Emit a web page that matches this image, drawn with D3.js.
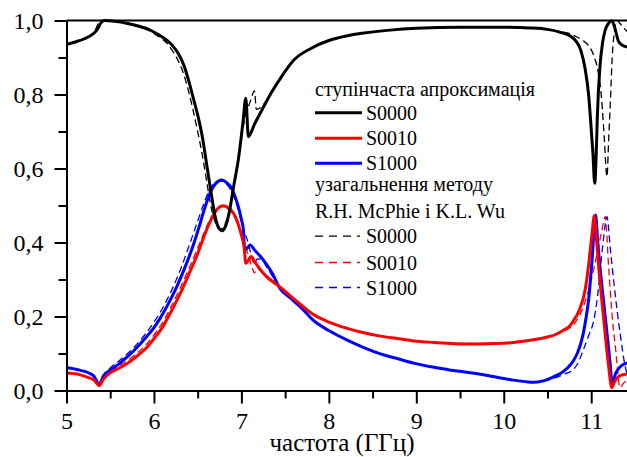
<!DOCTYPE html>
<html>
<head>
<meta charset="utf-8">
<script src="https://cdn.jsdelivr.net/npm/d3@7"></script>
<style>
  body { margin: 0; background: #fff; }
  svg { display: block; }
</style>
</head>
<body>
<svg id="chart" width="627" height="457"></svg>
<script>
// Frequency axis (GHz) and magnitude axis
const xMajorTicks = [5, 6, 7, 8, 9, 10, 11];
const xMinorTicks = [5.5, 6.5, 7.5, 8.5, 9.5, 10.5];
const yMajorTicks = [0, 0.2, 0.4, 0.6, 0.8, 1.0];
const yMinorTicks = [0.1, 0.3, 0.5, 0.7, 0.9];
const xTitle = "частота (ГГц)";

// Stepped approximation, [frequency, value]
const stepS0000 = [
  [5.00,0.935],[5.10,0.942],[5.20,0.950],[5.30,0.963],[5.35,0.975],[5.39,0.992],[5.43,1.000],
  [5.55,0.998],[5.70,0.992],[5.85,0.983],[5.95,0.975],[6.05,0.962],[6.15,0.946],[6.22,0.930],
  [6.28,0.910],[6.34,0.880],[6.40,0.835],[6.45,0.790],[6.50,0.745],[6.55,0.690],[6.61,0.600],
  [6.66,0.525],[6.70,0.470],[6.74,0.440],[6.78,0.432],[6.82,0.445],[6.86,0.480],[6.91,0.550],
  [6.97,0.632],[7.02,0.730],[7.05,0.790],[7.08,0.686],[7.15,0.720],[7.25,0.765],[7.35,0.808],
  [7.45,0.845],[7.60,0.893],[7.80,0.925],[8.00,0.946],[8.20,0.958],[8.40,0.966],[8.70,0.974],
  [9.00,0.979],[9.50,0.982],[10.00,0.982],[10.30,0.980],[10.50,0.976],[10.65,0.968],[10.76,0.958],
  [10.83,0.943],[10.88,0.920],[10.93,0.870],[10.97,0.800],[10.99,0.740],[11.02,0.640],[11.04,0.560],
  [11.06,0.660],[11.07,0.740],[11.10,0.875],[11.13,0.940],[11.16,0.974],[11.20,0.993],[11.23,0.999],
  [11.26,0.988],[11.29,0.962],[11.31,0.945],[11.35,0.934],[11.42,0.928]
];
const stepS0010 = [
  [5.00,0.047],[5.15,0.043],[5.25,0.035],[5.32,0.027],[5.375,0.013],[5.42,0.030],[5.50,0.048],
  [5.60,0.060],[5.70,0.074],[5.80,0.092],[5.90,0.112],[6.00,0.140],[6.10,0.172],[6.20,0.215],
  [6.30,0.262],[6.40,0.315],[6.50,0.370],[6.57,0.415],[6.63,0.450],[6.68,0.474],[6.73,0.492],
  [6.79,0.499],[6.85,0.494],[6.91,0.479],[6.96,0.452],[7.00,0.420],[7.03,0.390],[7.05,0.344],
  [7.08,0.352],[7.11,0.362],[7.16,0.345],[7.25,0.317],[7.35,0.296],[7.44,0.280],[7.56,0.256],
  [7.70,0.228],[7.82,0.206],[8.00,0.185],[8.21,0.168],[8.40,0.156],[8.59,0.147],[8.80,0.140],
  [8.97,0.134],[9.20,0.130],[9.35,0.128],[9.55,0.126],[9.73,0.126],[9.90,0.127],[10.11,0.130],
  [10.30,0.136],[10.49,0.144],[10.60,0.152],[10.68,0.163],[10.76,0.176],[10.80,0.190],[10.85,0.210],
  [10.88,0.228],[10.91,0.250],[10.95,0.300],[10.98,0.360],[11.01,0.425],[11.035,0.472],[11.06,0.410],
  [11.085,0.335],[11.14,0.200],[11.20,0.064],[11.235,0.008],[11.27,0.025],[11.33,0.040],[11.42,0.045]
];
const stepS1000 = [
  [5.00,0.062],[5.15,0.055],[5.25,0.048],[5.31,0.040],[5.375,0.017],[5.42,0.038],[5.50,0.055],
  [5.60,0.072],[5.70,0.092],[5.80,0.115],[5.88,0.136],[6.00,0.170],[6.07,0.195],[6.15,0.228],
  [6.26,0.280],[6.35,0.330],[6.45,0.393],[6.52,0.445],[6.57,0.485],[6.64,0.533],[6.70,0.558],
  [6.775,0.569],[6.83,0.562],[6.89,0.546],[6.93,0.522],[6.965,0.497],[7.00,0.462],[7.02,0.440],
  [7.04,0.380],[7.07,0.386],[7.10,0.393],[7.15,0.380],[7.25,0.353],[7.35,0.318],[7.44,0.276],
  [7.56,0.250],[7.70,0.220],[7.82,0.190],[8.00,0.162],[8.21,0.136],[8.40,0.116],[8.59,0.099],
  [8.80,0.085],[8.97,0.074],[9.15,0.065],[9.35,0.057],[9.55,0.050],[9.73,0.044],[9.92,0.036],
  [10.11,0.028],[10.25,0.024],[10.34,0.022],[10.45,0.026],[10.57,0.037],[10.68,0.051],[10.76,0.069],
  [10.80,0.082],[10.84,0.100],[10.875,0.123],[10.91,0.155],[10.94,0.195],[10.97,0.245],[11.01,0.353],
  [11.05,0.474],[11.075,0.400],[11.10,0.335],[11.16,0.200],[11.22,0.064],[11.24,0.010],[11.27,0.040],
  [11.30,0.055],[11.35,0.068],[11.42,0.075]
];

// Generalised R.H. McPhie & K.L. Wu method, [frequency, value]
const mcphieS0000 = [
  [5.00,0.935],[5.10,0.942],[5.20,0.950],[5.28,0.960],[5.33,0.975],[5.37,0.995],[5.40,1.000],
  [5.55,0.998],[5.70,0.991],[5.85,0.981],[5.95,0.972],[6.05,0.957],[6.15,0.938],[6.22,0.915],
  [6.28,0.890],[6.34,0.855],[6.40,0.805],[6.45,0.755],[6.50,0.700],[6.55,0.640],[6.60,0.570],
  [6.65,0.500],[6.70,0.455],[6.75,0.435],[6.79,0.440],[6.83,0.460],[6.88,0.510],[6.93,0.580],
  [6.99,0.670],[7.05,0.745],[7.10,0.780],[7.15,0.810],[7.17,0.760],[7.22,0.765],[7.30,0.788],
  [7.45,0.845],[7.60,0.893],[7.80,0.925],[8.00,0.946],[8.20,0.958],[8.40,0.966],[8.70,0.974],
  [9.00,0.979],[9.50,0.982],[10.00,0.982],[10.30,0.980],[10.50,0.976],[10.65,0.970],[10.76,0.964],
  [10.83,0.956],[10.91,0.945],[10.97,0.932],[11.03,0.905],[11.08,0.860],[11.12,0.785],[11.15,0.680],
  [11.18,0.578],[11.20,0.680],[11.22,0.785],[11.24,0.900],[11.26,0.960],[11.28,0.990],[11.30,1.000],
  [11.33,0.992],[11.38,0.978],[11.42,0.968]
];
const mcphieS0010 = [
  [5.00,0.047],[5.15,0.043],[5.25,0.035],[5.32,0.026],[5.37,0.013],[5.42,0.033],[5.50,0.052],
  [5.60,0.066],[5.70,0.081],[5.80,0.100],[5.90,0.122],[6.00,0.150],[6.10,0.184],[6.20,0.228],
  [6.30,0.277],[6.40,0.330],[6.50,0.385],[6.57,0.425],[6.63,0.458],[6.68,0.478],[6.73,0.492],
  [6.78,0.497],[6.84,0.492],[6.90,0.478],[6.96,0.450],[7.02,0.410],[7.08,0.365],[7.12,0.335],
  [7.15,0.318],[7.18,0.330],[7.22,0.323],[7.30,0.302],[7.44,0.280],[7.56,0.256],[7.70,0.228],
  [7.82,0.206],[8.00,0.185],[8.21,0.168],[8.40,0.156],[8.59,0.147],[8.80,0.140],[8.97,0.134],
  [9.20,0.130],[9.35,0.128],[9.55,0.127],[9.73,0.127],[9.90,0.128],[10.11,0.130],[10.30,0.136],
  [10.49,0.144],[10.60,0.151],[10.68,0.160],[10.76,0.170],[10.82,0.185],[10.87,0.205],[10.91,0.226],
  [10.95,0.255],[11.00,0.300],[11.04,0.340],[11.08,0.385],[11.12,0.430],[11.16,0.470],[11.20,0.330],
  [11.24,0.200],[11.28,0.110],[11.33,0.008],[11.37,0.020],[11.42,0.030]
];
const mcphieS1000 = [
  [5.00,0.062],[5.15,0.055],[5.25,0.047],[5.32,0.036],[5.37,0.020],[5.42,0.042],[5.50,0.061],
  [5.60,0.080],[5.70,0.100],[5.80,0.124],[5.90,0.152],[6.00,0.185],[6.10,0.223],[6.20,0.270],
  [6.30,0.325],[6.40,0.390],[6.50,0.458],[6.57,0.505],[6.63,0.540],[6.70,0.562],[6.76,0.567],
  [6.82,0.560],[6.89,0.536],[6.96,0.492],[7.02,0.438],[7.07,0.405],[7.12,0.360],[7.15,0.342],
  [7.18,0.356],[7.22,0.355],[7.30,0.330],[7.44,0.276],[7.56,0.250],[7.70,0.220],[7.82,0.190],
  [8.00,0.162],[8.21,0.136],[8.40,0.116],[8.59,0.099],[8.80,0.085],[8.97,0.074],[9.15,0.065],
  [9.35,0.057],[9.55,0.050],[9.73,0.044],[9.92,0.036],[10.11,0.028],[10.25,0.024],[10.34,0.022],
  [10.45,0.025],[10.57,0.033],[10.68,0.043],[10.80,0.058],[10.86,0.080],[10.91,0.110],[10.97,0.148],
  [11.03,0.190],[11.07,0.250],[11.10,0.317],[11.14,0.410],[11.18,0.470],[11.22,0.380],[11.26,0.290],
  [11.33,0.155],[11.39,0.064],[11.42,0.040]
];

const legendHeading1 = "ступінчаста апроксимація";
const legendHeading2 = "узагальнення методу";
const legendHeading3 = "R.H. McPhie i K.L. Wu";
const seriesNames = ["S0000", "S0010", "S1000"];
const seriesColors = ["#000000", "#ff0000", "#0000ff"];

const FONT = "'Liberation Serif', 'Times New Roman', serif";
const svg = d3.select("#chart");
const x = d3.scaleLinear().domain([5, 11.415]).range([66.5, 627.5]);
const y = d3.scaleLinear().domain([0, 1]).range([390.5, 20.5]);
const fmtY = v => d3.format(".1f")(v).replace(".", ",");

svg.append("defs").append("clipPath").attr("id", "plotClip")
  .append("rect").attr("x", 66.5).attr("y", 0).attr("width", 562).attr("height", 392);

// Curves
const line = d3.line().x(d => x(d[0])).y(d => y(d[1])).curve(d3.curveMonotoneX);
const curves = svg.append("g").attr("clip-path", "url(#plotClip)");
const dashedSets = [mcphieS0000, mcphieS0010, mcphieS1000];
const solidSets = [stepS0000, stepS0010, stepS1000];
dashedSets.forEach((data, i) => {
  curves.append("path").datum(data).attr("d", line)
    .attr("fill", "none").attr("stroke", seriesColors[i])
    .attr("stroke-width", 1.3).attr("stroke-dasharray", "7,4");
});
[2, 1, 0].forEach(i => {
  curves.append("path").datum(solidSets[i]).attr("d", line)
    .attr("fill", "none").attr("stroke", seriesColors[i])
    .attr("stroke-width", 3).attr("stroke-linejoin", "round");
});

// Axes
const axisStyle = g => {
  g.selectAll("path.domain").attr("stroke", "#000").attr("stroke-width", 2);
  g.selectAll(".tick line").attr("stroke", "#000").attr("stroke-width", 2);
  g.selectAll("text").style("font-family", FONT).style("font-size", "24px").attr("fill", "#000");
};
svg.append("g").attr("transform", "translate(0,390.5)")
  .call(d3.axisBottom(x).tickValues(xMinorTicks).tickSize(8).tickSizeOuter(0).tickFormat(""))
  .call(axisStyle);
svg.append("g").attr("transform", "translate(0,390.5)")
  .call(d3.axisBottom(x).tickValues(xMajorTicks).tickSize(13).tickSizeOuter(0).tickPadding(8)
    .tickFormat(d3.format("d")))
  .call(axisStyle);
svg.append("g").attr("transform", "translate(66.5,0)")
  .call(d3.axisLeft(y).tickValues(yMinorTicks).tickSize(8).tickSizeOuter(0).tickFormat(""))
  .call(axisStyle);
svg.append("g").attr("transform", "translate(66.5,0)")
  .call(d3.axisLeft(y).tickValues(yMajorTicks).tickSize(12).tickSizeOuter(0).tickPadding(11)
    .tickFormat(fmtY))
  .call(axisStyle);

// Upper frame edge at y = 1
svg.append("line").attr("x1", x(5)).attr("x2", 627).attr("y1", y(1)).attr("y2", y(1))
  .attr("stroke", "#000").attr("stroke-width", 2);

svg.append("text").attr("x", 342).attr("y", 451).attr("text-anchor", "middle")
  .style("font-family", FONT).style("font-size", "25px").attr("fill", "#000").text(xTitle);

// Legend
const legend = svg.append("g");
const legendText = (tx, ty, str) => legend.append("text").attr("x", tx).attr("y", ty)
  .style("font-family", FONT).style("font-size", "20px").attr("fill", "#000").text(str);
legendText(315, 96, legendHeading1);
const solidRowsY = [112.7, 138.3, 163.3];
const dashRowsY = [236.2, 262.5, 287.5];
seriesNames.forEach((name, i) => {
  legend.append("line").attr("x1", 315).attr("x2", 362)
    .attr("y1", solidRowsY[i]).attr("y2", solidRowsY[i])
    .attr("stroke", seriesColors[i]).attr("stroke-width", 3);
  legendText(366, solidRowsY[i] + 7, name);
});
legendText(315, 191, legendHeading2);
legendText(315, 218, legendHeading3);
seriesNames.forEach((name, i) => {
  legend.append("line").attr("x1", 315).attr("x2", 360)
    .attr("y1", dashRowsY[i]).attr("y2", dashRowsY[i])
    .attr("stroke", seriesColors[i]).attr("stroke-width", 1.3).attr("stroke-dasharray", "8,6");
  legendText(366, dashRowsY[i] + 7, name);
});
</script>
</body>
</html>
